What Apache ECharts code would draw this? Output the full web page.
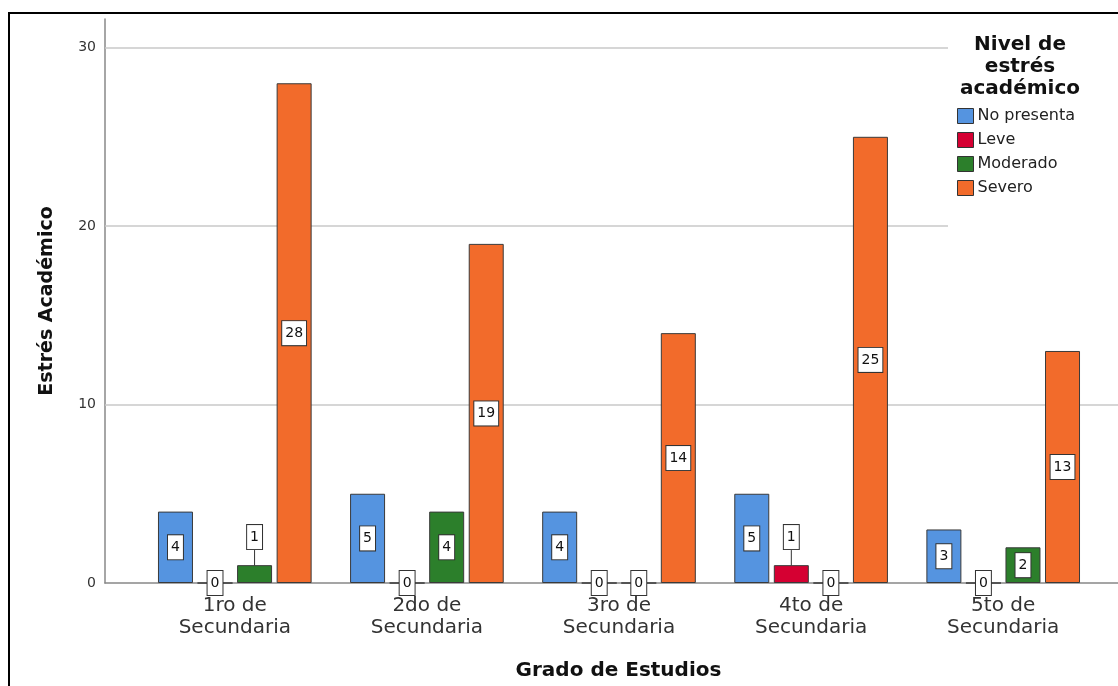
<!DOCTYPE html>
<html>
<head>
<meta charset="utf-8">
<script src="https://cdn.jsdelivr.net/npm/echarts@6/dist/echarts.min.js"></script>
<style>
  html, body { margin: 0; padding: 0; background: #fff; }
  #chart { width: 1118px; height: 686px; }
</style>
</head>
<body>
<div id="chart"></div>
<script>
// Grades on the horizontal axis
const grades = ['1ro de\nSecundaria', '2do de\nSecundaria', '3ro de\nSecundaria', '4to de\nSecundaria', '5to de\nSecundaria'];
// Student counts per stress level
const noPresenta = [4, 5, 4, 5, 3];
const leve = [0, 0, 0, 1, 0];
const moderado = [1, 4, 0, 0, 2];
const severo = [28, 19, 14, 25, 13];
const levelNames = ['No presenta', 'Leve', 'Moderado', 'Severo'];
const gridValues = [10, 20, 30];

const FONT = 'DejaVu Sans';
const colors = ['#5594E0', '#D50032', '#2C7F2B', '#F26B2B'];
const levels = [noPresenta, leve, moderado, severo];

function barSeries(name, values, color) {
  return {
    name: name,
    type: 'bar',
    z: 2,
    barWidth: 35,
    barGap: '13%',
    data: values.map((v, i) => [i, v]),
    itemStyle: { color: color, borderColor: '#3a3a3a', borderWidth: 1 },
    label: {
      show: true,
      position: 'inside',
      formatter: p => String(p.value[1]),
      fontFamily: FONT,
      fontSize: 14,
      color: '#111',
      backgroundColor: '#fff',
      borderColor: '#333',
      borderWidth: 1,
      padding: [5, 3, 5, 3],
      lineHeight: 14
    },
    // short bars get their label lifted above, joined by a leader line
    labelLayout: p => (values[p.dataIndex] === 1 ? { dy: -37 } : {}),
    labelLine: { show: true, lineStyle: { color: '#333', width: 1 } }
  };
}

const series = levels.map((vals, k) => barSeries(levelNames[k], vals, colors[k]));
// horizontal reference lines behind the bars
series.unshift({
  name: 'grid',
  type: 'line',
  z: 1,
  data: [],
  silent: true,
  markLine: {
    z: 1,
    silent: true,
    symbol: 'none',
    label: { show: false },
    lineStyle: { color: '#c8c8c8', width: 1.5, type: 'solid' },
    data: gridValues.map(v => ({ yAxis: v }))
  }
});

const chart = echarts.init(document.getElementById('chart'));
chart.setOption({
  animation: false,
  backgroundColor: '#fff',
  textStyle: { fontFamily: FONT },
  grid: { left: 105, right: 0, top: 19, bottom: 102, containLabel: false },
  title: {
    text: 'Nivel de\nestrés\nacadémico',
    left: 1015,
    top: 29,
    textAlign: 'center',
    z: 6,
    textStyle: { fontFamily: FONT, fontSize: 20, fontWeight: 'bold', color: '#111', lineHeight: 22 }
  },
  legend: {
    data: levelNames,
    orient: 'vertical',
    left: 957,
    top: 108,
    padding: 0,
    itemWidth: 16,
    itemHeight: 15,
    itemGap: 8,
    icon: 'rect',
    z: 6,
    itemStyle: { borderColor: '#333', borderWidth: 1 },
    textStyle: { fontFamily: FONT, fontSize: 16, color: '#222', padding: [0, 0, 0, -1] }
  },
  xAxis: {
    type: 'value',
    min: -0.6757,
    max: 4.5976,
    axisLine: { show: true, onZero: false, lineStyle: { color: '#888', width: 1.5 } },
    axisTick: { show: false },
    splitLine: { show: false },
    axisLabel: {
      customValues: [0, 1, 2, 3, 4],
      formatter: v => grades[Math.round(v)] || '',
      fontFamily: FONT,
      fontSize: 20,
      lineHeight: 22,
      color: '#333',
      margin: 12
    },
    name: 'Grado de Estudios',
    nameLocation: 'middle',
    nameGap: 78,
    nameTextStyle: { fontFamily: FONT, fontSize: 20, fontWeight: 'bold', color: '#111', padding: [0, 0, 0, 14] }
  },
  yAxis: {
    type: 'value',
    min: 0,
    max: 31.6,
    interval: 10,
    axisLine: { show: true, onZero: false, lineStyle: { color: '#888', width: 1.5 } },
    axisTick: { show: false },
    splitLine: { show: false },
    axisLabel: {
      formatter: v => (v % 10 === 0 ? String(v) : ''),
      fontFamily: FONT,
      fontSize: 14,
      color: '#333',
      margin: 9
    },
    name: 'Estrés Académico',
    nameLocation: 'middle',
    nameGap: 48,
    nameTextStyle: { fontFamily: FONT, fontSize: 19, fontWeight: 'bold', color: '#111' }
  },
  graphic: [
    {
      type: 'rect',
      z: 1.5,
      silent: true,
      shape: { x: 948, y: 24, width: 180, height: 212 },
      style: { fill: '#fff' }
    },
    {
      type: 'rect',
      z: 10,
      silent: true,
      shape: { x: 9, y: 13, width: 1200, height: 800 },
      style: { fill: 'none', stroke: '#000', lineWidth: 2 }
    }
  ],
  series: series
});
</script>
</body>
</html>
